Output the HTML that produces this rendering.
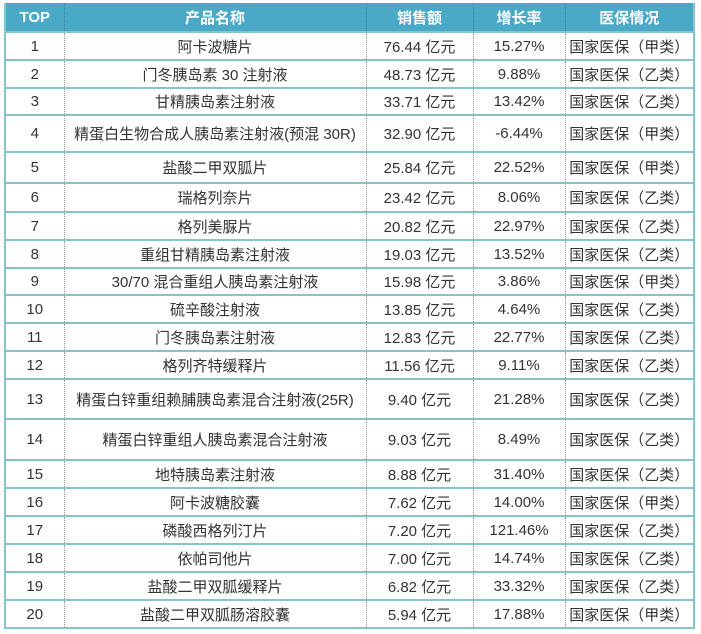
<!DOCTYPE html>
<html><head><meta charset="utf-8"><style>
body{margin:0;background:#fff;width:701px;height:634px;overflow:hidden;}
table{position:absolute;left:4px;top:3px;border-collapse:collapse;table-layout:fixed;font-family:"Liberation Sans","Noto Sans CJK SC",sans-serif;font-size:15px;color:#333;}
td,th{padding:0;text-align:center;border-top:2px solid #86c3cb;border-bottom:2px solid #86c3cb;border-left:1px dotted #999;border-right:1px dotted #999;white-space:nowrap;}
th{background:#4aa9c6;color:#fff;font-weight:bold;border-top:none;border-left:1px dotted #2f7f99;border-right:1px dotted #2f7f99;}
tr td:first-child,tr th:first-child{border-left:2px solid #86c3cb;}
tr td:last-child,tr th:last-child{border-right:2px solid #86c3cb;}
</style></head><body>
<table>
<colgroup><col style="width:59px"><col style="width:302px"><col style="width:107px"><col style="width:92px"><col style="width:129px"></colgroup>
<tr style="height:29px"><th>TOP</th><th>产品名称</th><th>销售额</th><th>增长率</th><th>医保情况</th></tr>
<tr style="height:28px"><td>1</td><td>阿卡波糖片</td><td>76.44 亿元</td><td>15.27%</td><td>国家医保（甲类）</td></tr>
<tr style="height:28px"><td>2</td><td>门冬胰岛素 30 注射液</td><td>48.73 亿元</td><td>9.88%</td><td>国家医保（乙类）</td></tr>
<tr style="height:27px"><td>3</td><td>甘精胰岛素注射液</td><td>33.71 亿元</td><td>13.42%</td><td>国家医保（乙类）</td></tr>
<tr style="height:37px"><td>4</td><td>精蛋白生物合成人胰岛素注射液(预混 30R)</td><td>32.90 亿元</td><td>-6.44%</td><td>国家医保（甲类）</td></tr>
<tr style="height:31px"><td>5</td><td>盐酸二甲双胍片</td><td>25.84 亿元</td><td>22.52%</td><td>国家医保（甲类）</td></tr>
<tr style="height:29px"><td>6</td><td>瑞格列奈片</td><td>23.42 亿元</td><td>8.06%</td><td>国家医保（乙类）</td></tr>
<tr style="height:28px"><td>7</td><td>格列美脲片</td><td>20.82 亿元</td><td>22.97%</td><td>国家医保（乙类）</td></tr>
<tr style="height:28px"><td>8</td><td>重组甘精胰岛素注射液</td><td>19.03 亿元</td><td>13.52%</td><td>国家医保（乙类）</td></tr>
<tr style="height:27px"><td>9</td><td>30/70 混合重组人胰岛素注射液</td><td>15.98 亿元</td><td>3.86%</td><td>国家医保（甲类）</td></tr>
<tr style="height:28px"><td>10</td><td>硫辛酸注射液</td><td>13.85 亿元</td><td>4.64%</td><td>国家医保（乙类）</td></tr>
<tr style="height:28px"><td>11</td><td>门冬胰岛素注射液</td><td>12.83 亿元</td><td>22.77%</td><td>国家医保（乙类）</td></tr>
<tr style="height:28px"><td>12</td><td>格列齐特缓释片</td><td>11.56 亿元</td><td>9.11%</td><td>国家医保（乙类）</td></tr>
<tr style="height:40px"><td>13</td><td>精蛋白锌重组赖脯胰岛素混合注射液(25R)</td><td>9.40 亿元</td><td>21.28%</td><td>国家医保（乙类）</td></tr>
<tr style="height:41px"><td>14</td><td>精蛋白锌重组人胰岛素混合注射液</td><td>9.03 亿元</td><td>8.49%</td><td>国家医保（乙类）</td></tr>
<tr style="height:28px"><td>15</td><td>地特胰岛素注射液</td><td>8.88 亿元</td><td>31.40%</td><td>国家医保（乙类）</td></tr>
<tr style="height:28px"><td>16</td><td>阿卡波糖胶囊</td><td>7.62 亿元</td><td>14.00%</td><td>国家医保（甲类）</td></tr>
<tr style="height:28px"><td>17</td><td>磷酸西格列汀片</td><td>7.20 亿元</td><td>121.46%</td><td>国家医保（乙类）</td></tr>
<tr style="height:28px"><td>18</td><td>依帕司他片</td><td>7.00 亿元</td><td>14.74%</td><td>国家医保（乙类）</td></tr>
<tr style="height:28px"><td>19</td><td>盐酸二甲双胍缓释片</td><td>6.82 亿元</td><td>33.32%</td><td>国家医保（乙类）</td></tr>
<tr style="height:28px"><td>20</td><td>盐酸二甲双胍肠溶胶囊</td><td>5.94 亿元</td><td>17.88%</td><td>国家医保（甲类）</td></tr>
</table>
</body></html>
